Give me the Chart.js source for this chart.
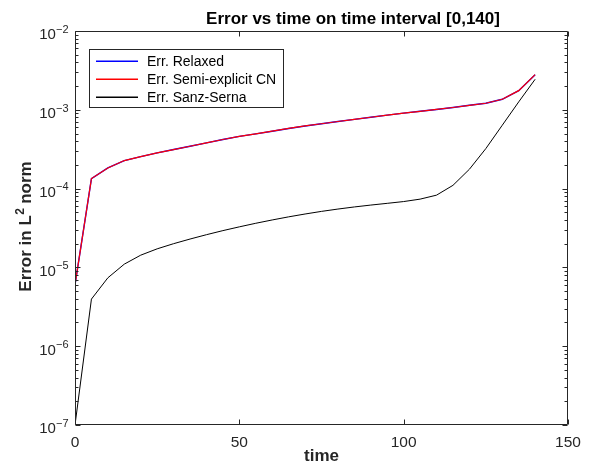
<!DOCTYPE html>
<html>
<head>
<meta charset="utf-8">
<script src="https://cdn.jsdelivr.net/npm/chart.js@4.4.1/dist/chart.umd.min.js"></script>
<style>
  html, body { margin: 0; padding: 0; background: #ffffff; }
  #wrap { width: 589px; height: 475px; }
</style>
</head>
<body>
<div id="wrap"><canvas id="c" width="589" height="475"></canvas></div>
<script>
// ---- data ----
const times = [0, 5, 10, 15, 20, 25, 30, 35, 40, 45, 50, 55, 60, 65, 70, 75, 80, 85, 90, 95, 100, 105, 110, 115, 120, 125, 130, 135, 140];
const errRelaxed = [6.0e-6, 1.34e-4, 1.83e-4, 2.27e-4, 2.55e-4, 2.84e-4, 3.13e-4, 3.45e-4, 3.80e-4, 4.20e-4, 4.60e-4, 4.95e-4, 5.35e-4, 5.80e-4, 6.24e-4, 6.65e-4, 7.10e-4, 7.55e-4, 8.05e-4, 8.55e-4, 9.08e-4, 9.57e-4, 1.01e-3, 1.07e-3, 1.14e-3, 1.21e-3, 1.36e-3, 1.75e-3, 2.79e-3];
const errSemiCN = [6.0e-6, 1.34e-4, 1.83e-4, 2.27e-4, 2.55e-4, 2.84e-4, 3.13e-4, 3.45e-4, 3.80e-4, 4.20e-4, 4.60e-4, 4.95e-4, 5.35e-4, 5.80e-4, 6.24e-4, 6.65e-4, 7.10e-4, 7.55e-4, 8.05e-4, 8.55e-4, 9.08e-4, 9.57e-4, 1.01e-3, 1.07e-3, 1.14e-3, 1.21e-3, 1.36e-3, 1.75e-3, 2.79e-3];
const errSanzSerna = [1.0e-7, 3.96e-6, 7.38e-6, 1.10e-5, 1.43e-5, 1.72e-5, 2.00e-5, 2.29e-5, 2.60e-5, 2.93e-5, 3.27e-5, 3.63e-5, 4.00e-5, 4.38e-5, 4.76e-5, 5.14e-5, 5.50e-5, 5.85e-5, 6.18e-5, 6.50e-5, 6.85e-5, 7.35e-5, 8.26e-5, 1.10e-4, 1.76e-4, 3.22e-4, 6.37e-4, 1.26e-3, 2.44e-3];
const seriesNames = ['Err. Relaxed', 'Err. Semi-explicit CN', 'Err. Sanz-Serna'];
const seriesColors = ['#0000ff', '#ff0000', '#000000'];
const xTicks = [0, 50, 100, 150];
const yExponents = [-2, -3, -4, -5, -6, -7];
const titleText = 'Error vs time on time interval [0,140]';
const xLabelText = 'time';

const toPts = (arr) => times.map((t, i) => ({ x: t, y: arr[i] }));

const AXIS = '#262626';
const FONT = '"Liberation Sans", Arial, Helvetica, sans-serif';

const decor = {
  id: 'decor',
  afterDraw(chart) {
    const ctx = chart.ctx;
    const a = chart.chartArea;
    const xs = chart.scales.x, ys = chart.scales.y;
    const L = Math.round(a.left) + 0.5, R = Math.round(a.right) - 0.5;
    const T = Math.round(a.top) + 0.5, B = Math.round(a.bottom) - 0.5;
    ctx.save();
    // frame
    ctx.strokeStyle = AXIS;
    ctx.lineWidth = 1;
    ctx.beginPath();
    ctx.rect(L, T, R - L, B - T);
    ctx.stroke();
    // x ticks
    ctx.beginPath();
    xTicks.forEach(v => {
      const px = Math.round(xs.getPixelForValue(v)) + 0.5;
      ctx.moveTo(px, B); ctx.lineTo(px, B - 5);
      ctx.moveTo(px, T); ctx.lineTo(px, T + 5);
    });
    // y ticks (major + minor)
    yExponents.forEach(e => {
      const py = Math.round(ys.getPixelForValue(Math.pow(10, e))) + 0.5;
      ctx.moveTo(L, py); ctx.lineTo(L + 5, py);
      ctx.moveTo(R, py); ctx.lineTo(R - 5, py);
      if (e < -2) {
        for (let m = 2; m <= 9; m++) {
          const pm = Math.round(ys.getPixelForValue(m * Math.pow(10, e))) + 0.5;
          ctx.moveTo(L, pm); ctx.lineTo(L + 3, pm);
          ctx.moveTo(R, pm); ctx.lineTo(R - 3, pm);
        }
      }
    });
    ctx.stroke();

    // x tick labels
    ctx.fillStyle = AXIS;
    ctx.font = '15.5px ' + FONT;
    ctx.textAlign = 'center';
    ctx.textBaseline = 'alphabetic';
    xTicks.forEach(v => {
      ctx.fillText(String(v), xs.getPixelForValue(v), 447.3);
    });
    // y tick labels 10^e
    yExponents.forEach(e => {
      const py = ys.getPixelForValue(Math.pow(10, e));
      const exp = String(e).replace('-', '\u2212');
      ctx.font = '11px ' + FONT;
      const wExp = ctx.measureText(exp).width;
      ctx.font = '15px ' + FONT;
      const wBase = ctx.measureText('10').width;
      const right = 68.5;
      ctx.textAlign = 'left';
      ctx.fillText('10', right - wExp - wBase, py + 8.4);
      ctx.font = '11px ' + FONT;
      ctx.fillText(exp, right - wExp, py + 1.8);
    });

    // title
    ctx.fillStyle = '#000000';
    ctx.font = 'bold 17px ' + FONT;
    ctx.textAlign = 'center';
    ctx.fillText(titleText, 353, 23.5);
    // x label
    ctx.fillStyle = AXIS;
    ctx.fillText(xLabelText, (a.left + a.right) / 2, 461);
    // y label: "Error in L" + sup "2" + " norm", rotated
    ctx.save();
    ctx.translate(31, 226.5);
    ctx.rotate(-Math.PI / 2);
    const p1 = 'Error in L', p2 = '2', p3 = ' norm';
    ctx.font = 'bold 17px ' + FONT;
    const w1 = ctx.measureText(p1).width, w3 = ctx.measureText(p3).width;
    ctx.font = 'bold 12px ' + FONT;
    const w2s = ctx.measureText(p2).width;
    const total = w1 + w2s + w3;
    const x0 = -total / 2;
    ctx.textAlign = 'left';
    ctx.font = 'bold 17px ' + FONT;
    ctx.fillText(p1, x0, 0);
    ctx.font = 'bold 12px ' + FONT;
    ctx.fillText(p2, x0 + w1 + 0.5, -7.5);
    ctx.font = 'bold 17px ' + FONT;
    ctx.fillText(p3, x0 + w1 + w2s, 0);
    ctx.restore();

    // legend
    const lx = 89.5, ly = 49.5, lw = 194, lh = 58;
    ctx.fillStyle = '#ffffff';
    ctx.fillRect(lx, ly, lw, lh);
    ctx.strokeStyle = AXIS;
    ctx.lineWidth = 1;
    ctx.strokeRect(lx, ly, lw, lh);
    const rows = [61.3, 79.3, 97.3];
    ctx.font = '14px ' + FONT;
    ctx.textAlign = 'left';
    for (let i = 0; i < seriesNames.length; i++) {
      ctx.beginPath();
      ctx.strokeStyle = seriesColors[i];
      ctx.lineWidth = 1.4;
      ctx.moveTo(96, rows[i]);
      ctx.lineTo(138, rows[i]);
      ctx.stroke();
      ctx.fillStyle = '#000000';
      ctx.fillText(seriesNames[i], 147, rows[i] + 4.5);
    }
    ctx.restore();
  }
};

new Chart(document.getElementById('c'), {
  type: 'line',
  data: {
    datasets: [
      { label: seriesNames[0], data: toPts(errRelaxed), borderColor: seriesColors[0], borderWidth: 1.4, pointRadius: 0, fill: false, tension: 0, order: 1 },
      { label: seriesNames[1], data: toPts(errSemiCN), borderColor: seriesColors[1], borderWidth: 1.2, pointRadius: 0, fill: false, tension: 0, order: 0 },
      { label: seriesNames[2], data: toPts(errSanzSerna), borderColor: seriesColors[2], borderWidth: 1, pointRadius: 0, fill: false, tension: 0, order: 2 }
    ]
  },
  options: {
    responsive: false,
    animation: false,
    devicePixelRatio: 1,
    layout: { padding: { left: 75, top: 31, right: 21, bottom: 50 } },
    plugins: { legend: { display: false }, tooltip: { enabled: false }, title: { display: false } },
    scales: {
      x: { type: 'linear', min: 0, max: 150, display: false },
      y: { type: 'logarithmic', min: 1e-7, max: 1e-2, display: false }
    }
  },
  plugins: [decor]
});
</script>
</body>
</html>
